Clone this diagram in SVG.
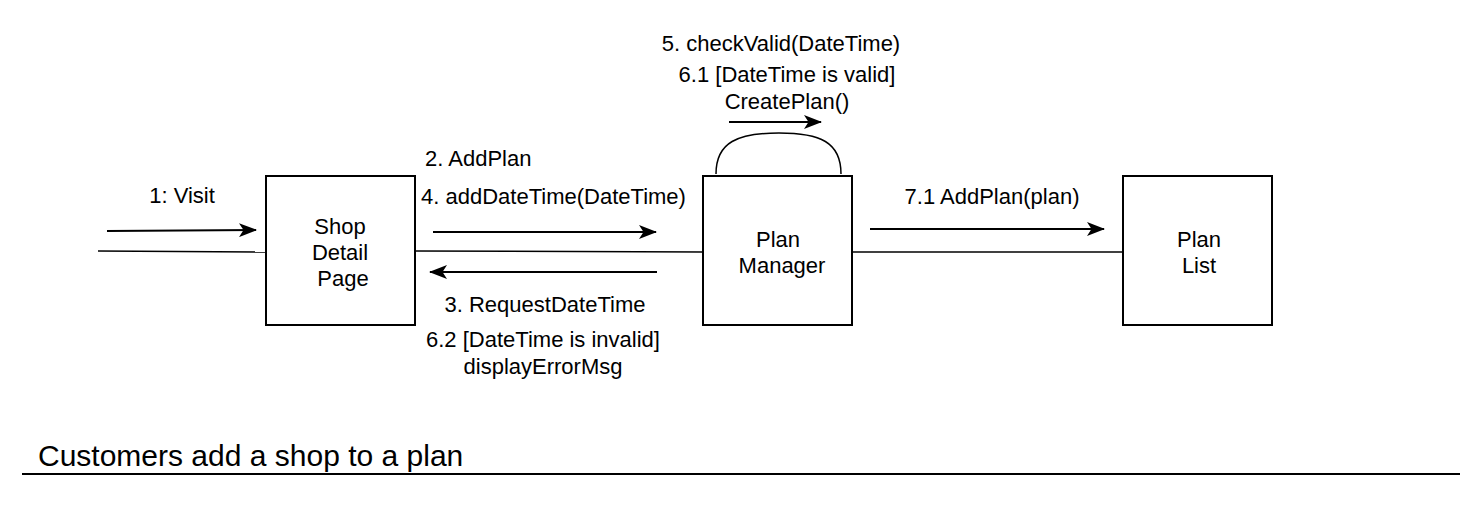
<svg xmlns="http://www.w3.org/2000/svg" width="1484" height="522" viewBox="0 0 1484 522">
<style>
.box{fill:#fff;stroke:#000;stroke-width:2}
.ln{fill:none;stroke:#000;stroke-width:1.5}
.ar{fill:none;stroke:#000;stroke-width:2}
text{font-family:"Liberation Sans",Arial,sans-serif;font-size:22px;fill:#000}
.c{text-anchor:middle}
</style>
<defs>
<marker id="ah" viewBox="0 0 18 14" refX="17" refY="7" markerWidth="18" markerHeight="14" markerUnits="userSpaceOnUse" orient="auto">
<path d="M0,0 L18,7 L0,14 L4.5,7 Z" fill="#000"/>
</marker>
</defs>
<rect width="1484" height="522" fill="#fff"/>
<g id="connectors">
<line class="ln" x1="98" y1="251" x2="266" y2="252"/>
<line class="ln" x1="415" y1="251" x2="703" y2="252"/>
<line class="ln" x1="852" y1="252" x2="1123" y2="252"/>
<path class="ln" d="M716,174 C716,142 738,133 779,133 C820,133 841,142 841,174"/>
<line class="ar" x1="107" y1="231" x2="256" y2="230" marker-end="url(#ah)"/>
<line class="ar" x1="433" y1="232" x2="656" y2="232" marker-end="url(#ah)"/>
<line class="ar" x1="657" y1="272" x2="430" y2="272" marker-end="url(#ah)"/>
<line class="ar" x1="729" y1="122" x2="821" y2="122" marker-end="url(#ah)"/>
<line class="ar" x1="870" y1="229" x2="1104" y2="229" marker-end="url(#ah)"/>
<text class="c" x="182" y="203">1: Visit</text>
<text x="425" y="166">2. AddPlan</text>
<text x="421" y="204">4. addDateTime(DateTime)</text>
<text class="c" x="545" y="312">3. RequestDateTime</text>
<text class="c" x="543" y="347">6.2 [DateTime is invalid]</text>
<text class="c" x="543" y="374">displayErrorMsg</text>
<text class="c" x="781" y="51">5. checkValid(DateTime)</text>
<text class="c" x="787" y="82">6.1 [DateTime is valid]</text>
<text class="c" x="787" y="109">CreatePlan()</text>
<text class="c" x="992" y="204">7.1 AddPlan(plan)</text>
</g>
<g id="shop">
<rect class="box" x="266" y="176" width="149" height="149"/>
<text class="c" x="340" y="234">Shop</text>
<text class="c" x="340" y="260">Detail</text>
<text class="c" x="343" y="286">Page</text>
</g>
<g id="manager">
<rect class="box" x="703" y="176" width="149" height="149"/>
<text class="c" x="778" y="247">Plan</text>
<text class="c" x="782" y="273">Manager</text>
</g>
<g id="planlist">
<rect class="box" x="1123" y="176" width="149" height="149"/>
<text class="c" x="1199" y="247">Plan</text>
<text class="c" x="1199" y="273">List</text>
</g>
<g id="title">
<text x="38" y="466" style="font-size:30px">Customers add a shop to a plan</text>
<line x1="22" y1="474" x2="1460" y2="474" stroke="#000" stroke-width="2"/>
</g>
</svg>
